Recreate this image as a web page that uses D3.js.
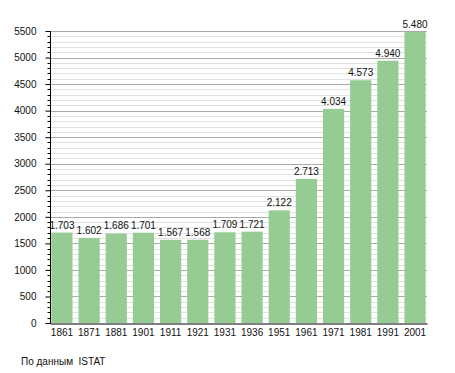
<!DOCTYPE html>
<html><head><meta charset="utf-8">
<script src="https://cdn.jsdelivr.net/npm/d3@7"></script>
<style>body{margin:0;background:#fff}svg text{font-family:"Liberation Sans",Arial,sans-serif;}</style>
</head><body>
<script>
const years = ["1861","1871","1881","1901","1911","1921","1931","1936","1951","1961","1971","1981","1991","2001"];
const population = [1703,1602,1686,1701,1567,1568,1709,1721,2122,2713,4034,4573,4940,5480];
const majorTicks = [0,500,1000,1500,2000,2500,3000,3500,4000,4500,5000,5500];
const sourceText = "По данным  ISTAT";

(function(){
const W=455,H=373, mL=50, mR=427, mT=31, mB=323;
const svg=d3.select("body").append("svg").attr("width",W).attr("height",H);
const x=d3.scaleBand().domain(years).range([mL,mR]).paddingInner(0.22).paddingOuter(0.05);
const y=d3.scaleLinear().domain([0,5500]).range([mB,mT]);
const minor=d3.range(0,5501,100);

svg.append("g").selectAll("line").data(minor.filter(v=>v%500!==0)).join("line")
  .attr("x1",mL).attr("x2",mR).attr("y1",d=>Math.round(y(d))+0.5).attr("y2",d=>Math.round(y(d))+0.5)
  .attr("stroke","#e2e2e2").attr("stroke-width",1);
svg.append("g").selectAll("line").data(majorTicks.filter(v=>v>0)).join("line")
  .attr("x1",mL).attr("x2",mR).attr("y1",d=>Math.round(y(d))+0.5).attr("y2",d=>Math.round(y(d))+0.5)
  .attr("stroke","#aaaaaa").attr("stroke-width",1);

svg.append("g").selectAll("rect").data(population).join("rect")
  .attr("x",(d,i)=>x(years[i])).attr("width",x.bandwidth())
  .attr("y",d=>y(d)).attr("height",d=>mB-y(d)).attr("fill","#97cb94");

const fmt=v=>d3.format(",")(v).replace(/,/g,".");
svg.append("g").selectAll("text").data(population).join("text")
  .attr("x",(d,i)=>x(years[i])+x.bandwidth()/2).attr("y",d=>y(d)-4)
  .attr("text-anchor","middle").attr("font-size",10).attr("fill","#111").text(fmt);

const ya=svg.append("g").attr("transform",`translate(${mL+0.5},0)`)
  .call(d3.axisLeft(y).tickValues(majorTicks).tickSize(5).tickPadding(9).tickFormat(d=>d));
ya.select(".domain").remove();
ya.selectAll("text").attr("font-size",10).attr("fill","#111").style("font-family","Liberation Sans, Arial, sans-serif");
svg.append("g").selectAll("line").data(minor.filter(v=>v%500!==0)).join("line")
  .attr("x1",mL-2.5).attr("x2",mL).attr("y1",d=>Math.round(y(d))+0.5).attr("y2",d=>Math.round(y(d))+0.5).attr("stroke","#000");
svg.append("line").attr("x1",mL+0.5).attr("x2",mL+0.5).attr("y1",mT).attr("y2",mB+0.5).attr("stroke","#000");

const xa=svg.append("g").attr("transform",`translate(0,${mB+0.5})`)
  .call(d3.axisBottom(x).tickSize(0).tickPadding(5.5));
xa.select(".domain").attr("stroke","#000");
xa.selectAll("text").attr("font-size",10).attr("fill","#111").style("font-family","Liberation Sans, Arial, sans-serif");

svg.append("text").attr("x",21).attr("y",365).attr("font-size",10).attr("fill","#111")
  .attr("xml:space","preserve").style("white-space","pre").text(sourceText);
})();
</script>
</body></html>
